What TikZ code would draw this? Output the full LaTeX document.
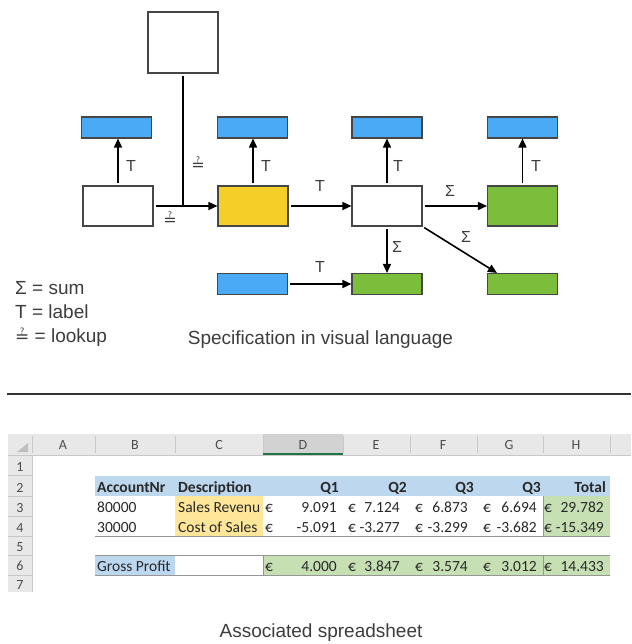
\documentclass[tikz,border=0pt]{standalone}
\usepackage{fontspec}
\setmainfont{Liberation Sans}
\newfontfamily\calibri{Carlito}
\newfontfamily\dejavu{DejaVu Sans}
\usetikzlibrary{arrows.meta,calc}

\definecolor{boxblue}{RGB}{74,170,245}
\definecolor{boxyellow}{RGB}{245,207,40}
\definecolor{boxgreen}{RGB}{123,190,60}
\definecolor{boxedge}{RGB}{70,70,70}
\definecolor{txtgray}{RGB}{60,60,60}
\definecolor{xlblue}{RGB}{189,215,238}
\definecolor{xlyellow}{RGB}{255,230,153}
\definecolor{xlgreen}{RGB}{198,224,180}
\definecolor{xlhead}{RGB}{232,232,232}
\definecolor{xlheadsel}{RGB}{210,210,210}
\definecolor{xlsel}{RGB}{33,115,70}
\definecolor{xlsep}{RGB}{200,200,200}
\definecolor{xlborder}{RGB}{150,150,150}
\definecolor{xltext}{RGB}{40,40,40}

\tikzset{
  vbox/.style={draw=boxedge, line width=1.1pt, inner sep=0pt, minimum width=70pt, minimum height=40pt},
  wbox/.style={vbox, fill=white},
  ybox/.style={vbox, fill=boxyellow},
  gbox/.style={vbox, fill=boxgreen},
  bbar/.style={vbox, fill=boxblue, minimum height=21pt},
  gbar/.style={vbox, fill=boxgreen, minimum height=21pt},
  conn/.style={line width=1.6pt, -{Triangle[length=9pt,width=8pt]}, shorten <=2pt},
  plainline/.style={line width=1.6pt, shorten <=2pt},
  lab/.style={font=\fontsize{16}{16}\selectfont, text=txtgray, inner sep=0pt},
  lkp/.style={font=\dejavu\fontsize{16}{16}\selectfont, text=txtgray, inner sep=0pt},
  captext/.style={font=\fontsize{19}{19}\selectfont, text=txtgray, inner sep=0pt},
  cell/.style={font=\calibri\fontsize{15.5}{15.5}\selectfont, text=xltext, inner sep=0pt, text height=10pt, text depth=0pt},
  bcell/.style={cell, font=\calibri\bfseries\fontsize{15.5}{15.5}\selectfont},
  hcell/.style={font=\calibri\fontsize{14}{14}\selectfont, text=black!70, inner sep=0pt, text height=9pt, text depth=0pt},
}

\begin{document}
\begin{tikzpicture}[x=1pt,y=-1pt]
\useasboundingbox (0,0) rectangle (631,644);

% ---------- visual language diagram ----------
\node[wbox, minimum height=61pt] (top) at (183,42.5) {};
\node[bbar] (b1) at (116.5,127.5) {};
\node[bbar] (b2) at (252.5,127.5) {};
\node[bbar] (b3) at (387,127.5) {};
\node[bbar] (b4) at (522.5,127.5) {};
\node[wbox] (w1) at (118,206) {};
\node[ybox] (y1) at (253,206) {};
\node[wbox] (w2) at (387,206) {};
\node[gbox] (g1) at (522.5,206) {};
\node[bbar] (b5) at (252.5,284) {};
\node[gbar] (g2) at (387,284) {};
\node[gbar] (g3) at (522.5,284) {};

\draw[conn] (w1.north) -- (w1.north |- b1.south);
\draw[conn] (y1.north) -- (y1.north |- b2.south);
\draw[conn] (w2.north) -- (w2.north |- b3.south);
\draw[conn] (g1.north) -- (g1.north |- b4.south);
\draw[conn] (w1.east) -- (y1.west);
\draw[plainline] (top.south) -- (top.south |- y1.west);
\draw[conn] (y1.east) -- (w2.west);
\draw[conn] (w2.east) -- (g1.west);
\draw[conn] (w2.south) -- (g2.north);
\coordinate (g3tip) at ($(g3.north west)+(10,0)$);
\draw[conn] (w2.south east) -- (g3tip);
\draw[conn] (b5.east) -- (g2.west);

\node[lab] (t1) at (131,166) {T};
\node[lab] (t2) at (266,166) {T};
\node[lab] (t3) at (398,166) {T};
\node[lab] (t4) at (536,166) {T};
\node[lab] (t5) at (320,186) {T};
\node[lab] (t6) at (320,267) {T};
\node[lab] (s1) at (450,191) {Σ};
\node[lab] (s2) at (397,247) {Σ};
\node[lab] (s3) at (466,237) {Σ};
\node[lkp] (l1) at (198,164) {≟};
\node[lkp] (l2) at (170,219) {≟};

% legend
\node[captext, anchor=west] (leg1) at (15,288) {Σ = sum};
\node[captext, anchor=west] (leg2) at (15,312) {T = label};
\node[captext, anchor=west] (leg3) at (15,337) {{\dejavu\fontsize{17}{17}\selectfont ≟} = lookup};
\node[captext] (spec) at (320.5,340) {Specification in visual language};

% separator
\draw[line width=1.8pt, black!80] (7,394) -- (631,394);

% ---------- spreadsheet ----------
\fill[xlhead] (8,434) rectangle (631,455);
\fill[xlheadsel] (263,434) rectangle (343,455);
\fill[xlhead] (8,455) rectangle (32,592);
\draw[xlsep] (8,455) -- (631,455);
\draw[xlsel, line width=1.5pt] (263,454.2) -- (343,454.2);
\foreach \x in {32,95,175,263,343,410,477,543,610}
  \draw[xlsep] (\x,436) -- (\x,453);
\foreach \y in {475,496,516,536,555,575}
  \draw[xlsep] (8,\y) -- (32,\y);
\draw[xlsep] (32,455) -- (32,592);
\fill[black!25] (17,452) -- (28,452) -- (28,443) -- cycle;

\foreach \c/\x in {A/63,B/135,C/219,D/303,E/376,F/443,G/509,H/576}
  \node[hcell] (col\c) at (\x,445) {\c};
\foreach \r/\y in {1/467,2/488,3/508,4/528,5/547,6/566,7/585}
  \node[hcell] (row\r) at (20,\y) {\r};

% fills
\fill[xlblue] (95,476) rectangle (610,496);
\fill[xlyellow] (175,496) rectangle (263,536);
\fill[xlgreen] (543,496) rectangle (610,536);
\fill[xlblue] (95,555) rectangle (175,575);
\fill[xlgreen] (263,555) rectangle (610,575);
% borders
\draw[xlborder] (95,536.5) -- (610,536.5);
\draw[xlborder] (95,555) -- (610,555);
\draw[xlborder] (95,575) -- (610,575);
\draw[xlborder] (263,555) -- (263,575);
\draw[xlborder] (543,555) -- (543,575);
\draw[xlborder] (543,496) -- (543,536.5);

% row 2
\node[bcell, anchor=west] (acc) at (97,487) {AccountNr};
\node[bcell, anchor=west] (desc) at (178,487) {Description};
\node[bcell, anchor=east] (q1) at (339,487) {Q1};
\node[bcell, anchor=east] (q2) at (407,487) {Q2};
\node[bcell, anchor=east] (q3) at (474,487) {Q3};
\node[bcell, anchor=east] (q4) at (541,487) {Q3};
\node[bcell, anchor=east] (tot) at (606,487) {Total};
% row 3
\node[cell, anchor=west] (a3) at (97,507.5) {80000};
\node[cell, anchor=west] (d3) at (178,507.5) {Sales Revenu};
\foreach \ex/\vx/\v [count=\i] in {269/337/9.091, 352/400/7.124, 419/468/6.873, 487/537/6.694, 548/604/29.782}{
  \node[cell] (r3e\i) at (\ex,507.5) {€};
  \node[cell, anchor=east] (r3v\i) at (\vx,507.5) {\v};
}
% row 4
\node[cell, anchor=west] (a4) at (97,527) {30000};
\node[cell, anchor=west] (d4) at (178,527) {Cost of Sales};
\foreach \ex/\vx/\v [count=\i] in {269/337/-5.091, 352/400/-3.277, 419/468/-3.299, 487/537/-3.682, 548/604/-15.349}{
  \node[cell] (r4e\i) at (\ex,527) {€};
  \node[cell, anchor=east] (r4v\i) at (\vx,527) {\v};
}
% row 6
\node[cell, anchor=west] (gp) at (97,566) {Gross Profit};
\foreach \ex/\vx/\v [count=\i] in {269/337/4.000, 352/400/3.847, 419/468/3.574, 487/537/3.012, 548/604/14.433}{
  \node[cell] (r6e\i) at (\ex,566) {€};
  \node[cell, anchor=east] (r6v\i) at (\vx,566) {\v};
}

\node[captext] (assoc) at (321,633) {Associated spreadsheet};
\end{tikzpicture}
\end{document}
